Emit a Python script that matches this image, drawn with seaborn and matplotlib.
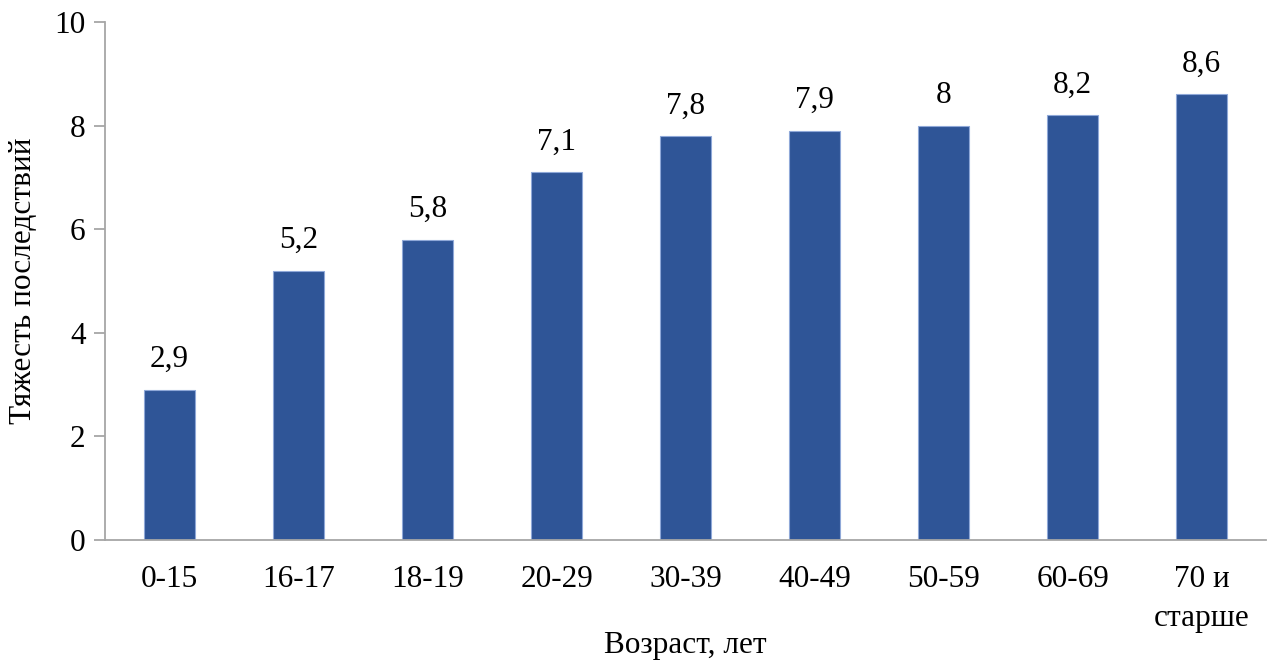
import numpy as np
import pandas as pd
import matplotlib
matplotlib.use("Agg")
import matplotlib.pyplot as plt
import seaborn as sns

categories = ["0-15", "16-17", "18-19", "20-29", "30-39", "40-49", "50-59", "60-69", "70 и\nстарше"]
values = [2.9, 5.2, 5.8, 7.1, 7.8, 7.9, 8.0, 8.2, 8.6]
labels = ["2,9", "5,2", "5,8", "7,1", "7,8", "7,9", "8", "8,2", "8,6"]
yticks = [0, 2, 4, 6, 8, 10]

sns.set_style("white")
plt.rcParams['font.family'] = ['Liberation Serif', 'DejaVu Serif']
plt.rcParams['text.color'] = 'black'
plt.rcParams['axes.labelcolor'] = 'black'
plt.rcParams['xtick.labelcolor'] = 'black'
plt.rcParams['ytick.labelcolor'] = 'black'

df = pd.DataFrame({"age": categories, "severity": values})

fig = plt.figure(figsize=(12.73, 6.65), dpi=100)
ax = fig.add_axes([0.0825, 0.188, 0.912, 0.779])

sns.barplot(data=df, x="age", y="severity", color="#2F5597", saturation=1,
            width=0.4, edgecolor="#8FA8D8", linewidth=0.8, ax=ax)

fs = 22.5
for i, (v, t) in enumerate(zip(values, labels)):
    ax.text(i, v + 0.3, t, ha="center", va="bottom", fontsize=fs)

ax.set_xlim(-0.5, len(categories) - 0.5)
ax.set_ylim(0, 10)
ax.set_yticks(yticks)
ax.set_yticklabels([str(t) for t in yticks], fontsize=fs)
ax.set_xticks(range(len(categories)))
ax.set_xticklabels(categories, fontsize=fs, linespacing=1.45)
ax.set_xticks(np.arange(-0.5, len(categories), 1), minor=True)
ax.tick_params(axis="x", which="major", length=0, pad=18)
ax.tick_params(axis="x", which="minor", length=8, width=1.3, color="#A6A6A6", direction="out")
ax.tick_params(axis="y", which="major", length=8, width=1.3, color="#A6A6A6", direction="out", left=True, pad=6)

for s in ["top", "right"]:
    ax.spines[s].set_visible(False)
for s in ["left", "bottom"]:
    ax.spines[s].set_color("#A6A6A6")
    ax.spines[s].set_linewidth(1.3)

ax.set_xlabel("Возраст, лет", fontsize=fs)
ax.xaxis.set_label_coords(0.5, -0.203)
ax.xaxis.label.set_va("center")
ax.set_ylabel("Тяжесть последствий", fontsize=fs)
ax.yaxis.set_label_coords(-0.0706, 0.5)
ax.yaxis.label.set_va("center")

fig.savefig("out.png", dpi=100)
